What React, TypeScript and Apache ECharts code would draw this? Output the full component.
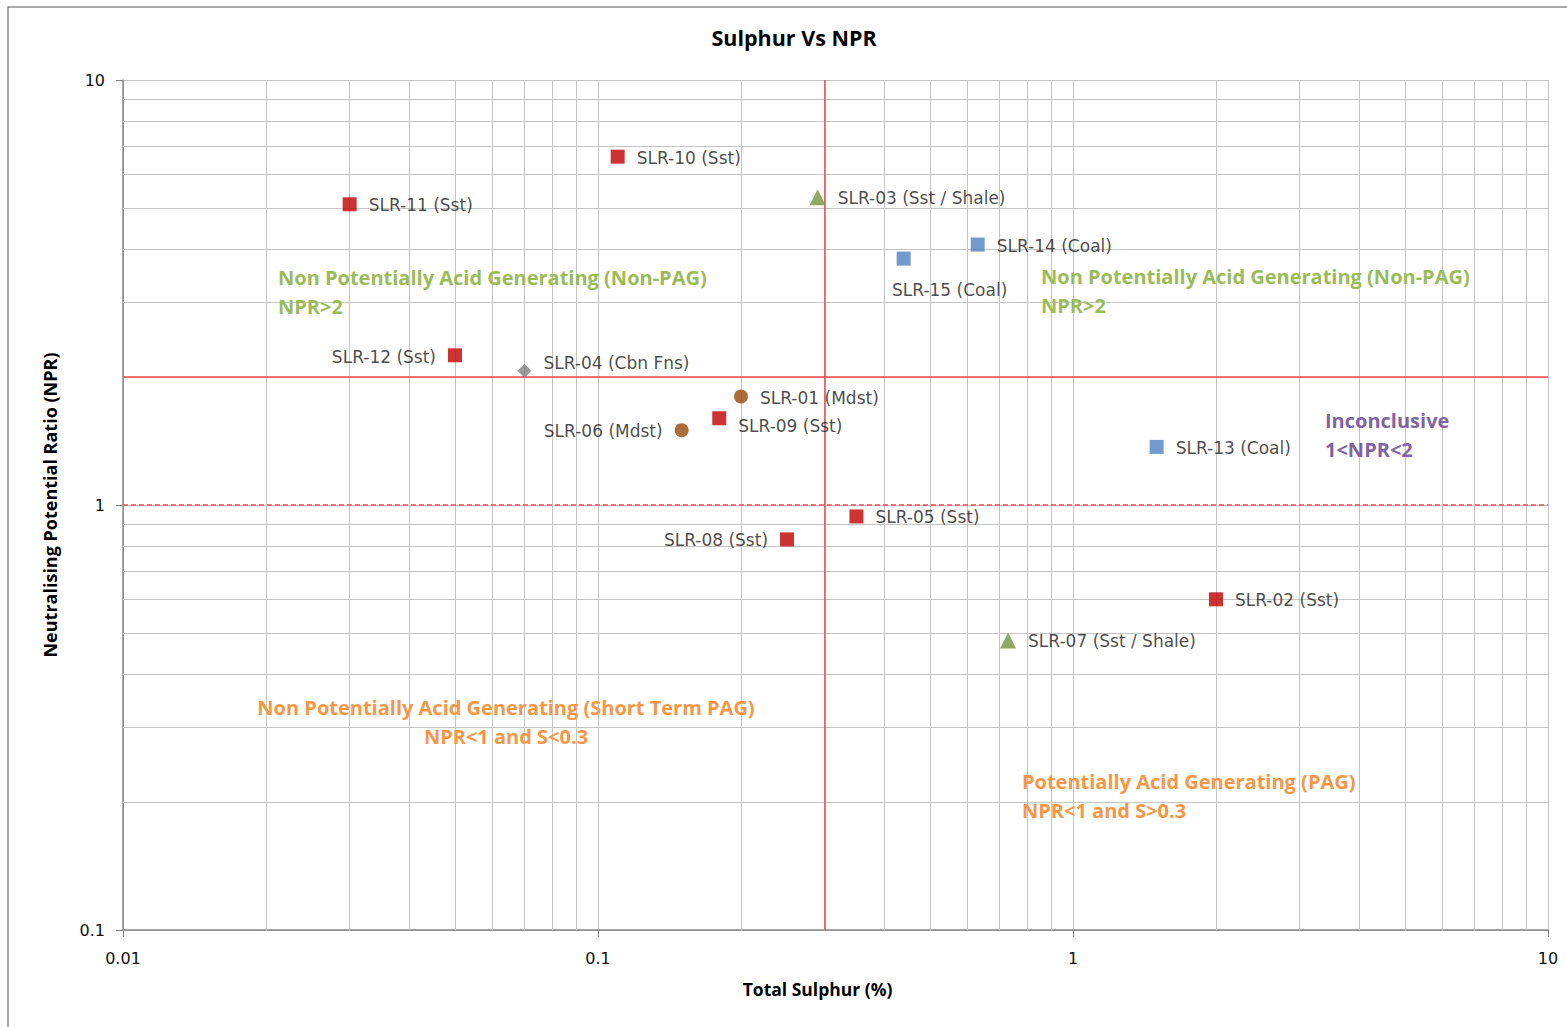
import React, { useEffect, useRef } from "react";
import * as echarts from "echarts";

const sampleIds = ["SLR-01","SLR-02","SLR-03","SLR-04","SLR-05","SLR-06","SLR-07","SLR-08","SLR-09","SLR-10","SLR-11","SLR-12","SLR-13","SLR-14","SLR-15"];
const rockTypes = ["Mdst","Sst","Sst / Shale","Cbn Fns","Sst","Mdst","Sst / Shale","Sst","Sst","Sst","Sst","Sst","Coal","Coal","Coal"];
const totalSulphur = [0.2, 2.0, 0.29, 0.07, 0.35, 0.15, 0.73, 0.25, 0.18, 0.11, 0.03, 0.05, 1.5, 0.63, 0.44];
const npr = [1.8, 0.6, 5.3, 2.07, 0.94, 1.5, 0.48, 0.83, 1.6, 6.6, 5.1, 2.25, 1.37, 4.1, 3.8];

const sulphurThreshold = 0.3;
const nprUpper = 2;
const nprLower = 1;

const xTicks = [0.01, 0.1, 1, 10];
const yTicks = [0.1, 1, 10];
const gridMultipliers = [2, 3, 4, 5, 6, 7, 8, 9];

const rockStyles: Record<string, { symbol: string; size: number; color: string }> = {
  "Sst": { symbol: "rect", size: 14, color: "#C00000" },
  "Sst / Shale": { symbol: "triangle", size: 16, color: "#77933C" },
  "Coal": { symbol: "rect", size: 14, color: "#4F81BD" },
  "Mdst": { symbol: "circle", size: 14, color: "#984807" },
  "Cbn Fns": { symbol: "diamond", size: 14, color: "#7F7F7F" },
};
const rockOrder = ["Sst", "Sst / Shale", "Coal", "Mdst", "Cbn Fns"];

const labelPlacement: Record<string, { position: string; offset: number[] }> = {
  "SLR-12": { position: "left", offset: [0, 2] },
  "SLR-06": { position: "left", offset: [0, 1] },
  "SLR-08": { position: "left", offset: [0, 1] },
  "SLR-15": { position: "bottom", offset: [46, 4] },
  "SLR-09": { position: "right", offset: [0, 8] },
  "SLR-04": { position: "right", offset: [0, -8] },
};

const FONT = "'DejaVu Sans', 'Liberation Sans', sans-serif";
const BOLD_FONT = "'Open Sans', 'Liberation Sans', sans-serif";

function fmt(v: number) {
  return parseFloat(Number(v).toPrecision(3)).toString();
}

export default function App() {
  const ref = useRef<HTMLDivElement>(null);
  useEffect(() => {
    if (!ref.current) return;
    const chart = echarts.init(ref.current, undefined, { renderer: "svg" });

    const minorX: number[] = [];
    xTicks.slice(0, -1).forEach((d) => gridMultipliers.forEach((m) => minorX.push(d * m)));
    const minorY: number[] = [];
    yTicks.slice(0, -1).forEach((d) => gridMultipliers.forEach((m) => minorY.push(d * m)));

    const pointSeries = rockOrder.map((rt) => {
      const st = rockStyles[rt];
      const data = sampleIds
        .map((id, i) => ({ id, i }))
        .filter((o) => rockTypes[o.i] === rt)
        .map(({ id, i }) => {
          const pl = labelPlacement[id] || { position: "right", offset: [0, 1] };
          return {
            value: [totalSulphur[i], npr[i]],
            name: `${id} (${rockTypes[i]})`,
            label: { position: pl.position, offset: pl.offset },
          };
        });
      return {
        type: "scatter",
        name: rt,
        symbol: st.symbol,
        symbolSize: st.size,
        itemStyle: { color: st.color },
        z: 5,
        label: {
          show: true,
          formatter: (p: any) => p.name,
          color: "#1a1a1a",
          fontFamily: FONT,
          fontSize: 17,
          distance: 12,
        },
        data,
      };
    });

    const annotationStyle = (text: string, fill: string, align: string) => ({
      text,
      fill,
      fontFamily: BOLD_FONT,
      fontSize: 20,
      fontWeight: "bold",
      lineHeight: 29,
      align,
      verticalAlign: "top",
    });

    const option: any = {
      animation: false,
      backgroundColor: "#ffffff",
      title: {
        text: "Sulphur Vs NPR",
        left: 789,
        top: 21,
        textAlign: "center",
        textStyle: { fontFamily: BOLD_FONT, fontSize: 21.5, fontWeight: "bold", color: "#000" },
      },
      grid: { left: 123, right: 19, top: 80, bottom: 97, containLabel: false },
      xAxis: {
        type: "log",
        logBase: 10,
        min: 0.01,
        max: 10,
        name: "Total Sulphur (%)",
        nameLocation: "middle",
        nameGap: 50,
        nameTextStyle: {
          fontFamily: BOLD_FONT,
          fontSize: 17.5,
          fontWeight: "bold",
          color: "#000",
          padding: [0, 36, 0, 0],
        },
        axisLine: { show: true, lineStyle: { color: "#868686", width: 1.5 } },
        axisTick: { show: true, length: 7, lineStyle: { color: "#868686" } },
        axisLabel: { fontFamily: FONT, fontSize: 16, color: "#111", margin: 20, formatter: fmt },
        splitLine: { show: true, lineStyle: { color: "#C4C4C4", width: 1 } },
      },
      yAxis: {
        type: "log",
        logBase: 10,
        min: 0.1,
        max: 10,
        name: "Neutralising Potential Ratio (NPR)",
        nameLocation: "middle",
        nameGap: 64,
        nameTextStyle: { fontFamily: BOLD_FONT, fontSize: 18, fontWeight: "bold", color: "#000" },
        axisLine: { show: true, lineStyle: { color: "#868686", width: 1.5 } },
        axisTick: { show: true, length: 7, lineStyle: { color: "#868686" } },
        axisLabel: { fontFamily: FONT, fontSize: 16, color: "#111", margin: 18, formatter: fmt },
        splitLine: { show: true, lineStyle: { color: "#C4C4C4", width: 1 } },
      },
      series: [
        {
          type: "line",
          data: [],
          z: 1,
          silent: true,
          markLine: {
            silent: true,
            symbol: "none",
            label: { show: false },
            lineStyle: { color: "#C4C4C4", width: 1, type: "solid" },
            data: [
              ...minorX.map((v) => ({ xAxis: v })),
              ...minorY.map((v) => ({ yAxis: v })),
            ],
          },
        },
        {
          type: "line",
          data: [],
          z: 3,
          silent: true,
          markLine: {
            silent: true,
            symbol: "none",
            label: { show: false },
            data: [
              { xAxis: sulphurThreshold, lineStyle: { color: "#F04848", width: 1.5, type: "solid" } },
              { yAxis: nprUpper, lineStyle: { color: "#F04848", width: 1.5, type: "solid" } },
              { yAxis: nprLower, lineStyle: { color: "#F04848", width: 1.5, type: [5, 3] } },
            ],
          },
        },
        ...pointSeries,
      ],
      graphic: [
        {
          type: "rect",
          shape: { x: 8, y: 7, width: 1600, height: 1100 },
          style: { fill: "none", stroke: "#8C8C8C", lineWidth: 1.5 },
          silent: true,
          z: -1,
        },
        {
          type: "text",
          x: 278,
          y: 263,
          style: annotationStyle("Non Potentially Acid Generating (Non-PAG)\nNPR>2", "#9BBB59", "left"),
          z: 10,
        },
        {
          type: "text",
          x: 1041,
          y: 262,
          style: annotationStyle("Non Potentially Acid Generating (Non-PAG)\nNPR>2", "#9BBB59", "left"),
          z: 10,
        },
        {
          type: "text",
          x: 1325,
          y: 406,
          style: annotationStyle("Inconclusive\n1<NPR<2", "#8064A2", "left"),
          z: 10,
        },
        {
          type: "text",
          x: 506,
          y: 693,
          style: annotationStyle("Non Potentially Acid Generating (Short Term PAG)\nNPR<1 and S<0.3", "#F79646", "center"),
          z: 10,
        },
        {
          type: "text",
          x: 1022,
          y: 767,
          style: annotationStyle("Potentially Acid Generating (PAG)\nNPR<1 and S>0.3", "#F79646", "left"),
          z: 10,
        },
      ],
    };
    chart.setOption(option);
    return () => chart.dispose();
  }, []);
  return (
    <div
      ref={ref}
      style={{ position: "fixed", left: 0, top: 0, width: 1567, height: 1027, background: "#fff" }}
    />
  );
}
